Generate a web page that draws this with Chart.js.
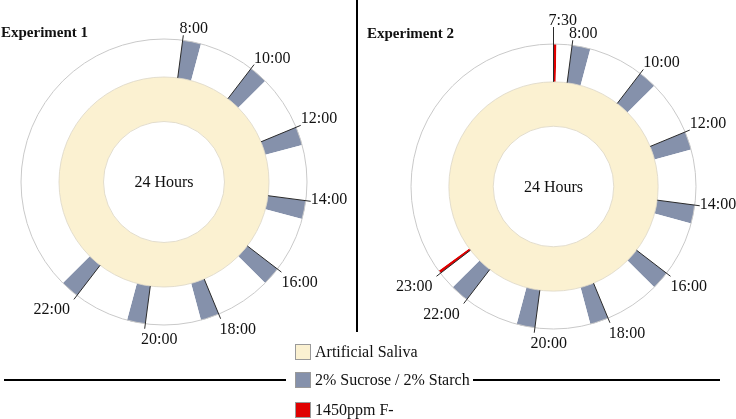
<!DOCTYPE html>
<html>
<head>
<meta charset="utf-8">
<script src="https://cdn.jsdelivr.net/npm/chart.js@4/dist/chart.umd.min.js"></script>
<style>
  html, body { margin: 0; padding: 0; background: #fff; }
  body { width: 736px; height: 419px; position: relative; overflow: hidden; font-family: "Liberation Serif", "Times New Roman", serif; }
  .cv { position: absolute; top: 0; }
  #c1wrap { left: 0; width: 357px; height: 370px; }
  #c2wrap { left: 357px; width: 379px; height: 370px; }
  .rule { position: absolute; background: #000; }
  .legend { position: absolute; left: 295px; top: 344px; font-size: 16px; color: #111; }
  .legend .item { position: absolute; left: 0; height: 18px; white-space: nowrap; }
  .legend .box { position: absolute; left: 0; top: 0; width: 16px; height: 16px; border: 1px solid #9a9a9a; box-sizing: border-box; }
  .legend .txt { position: absolute; left: 20px; top: -1px; line-height: 18px; }
</style>
</head>
<body>
<div class="cv" id="c1wrap"><canvas id="c1"></canvas></div>
<div class="cv" id="c2wrap"><canvas id="c2"></canvas></div>
<div class="rule" style="left:356px;top:0;width:2px;height:332px;"></div>
<div class="rule" style="left:4px;top:379px;width:282px;height:2px;"></div>
<div class="rule" style="left:473px;top:379px;width:247px;height:2px;"></div>
<div class="legend" id="legend"></div>
<script>
// ---- data ----
const HOURS = 24;
const clockTop = 7.5;                 // time shown at 12 o'clock
const centerLabel = '24 Hours';

const exp1Labels = ['8:00','10:00','12:00','14:00','16:00','18:00','20:00','22:00'];
const exp1Start  = [8, 10, 12, 14, 16, 18, 20, 22];
const exp1Dur    = [0.5, 0.5, 0.5, 0.5, 0.5, 0.5, 0.5, 0.5];

const exp2SugarLabels = ['8:00','10:00','12:00','14:00','16:00','18:00','20:00','22:00'];
const exp2SugarStart  = [8, 10, 12, 14, 16, 18, 20, 22];
const exp2SugarDur    = [0.5, 0.5, 0.5, 0.5, 0.5, 0.5, 0.5, 0.5];
const exp2FluorLabels = ['7:30', '23:00'];
const exp2FluorStart  = [7.5, 23];
const exp2FluorDur    = [0.08, 0.08];

const legendLabels = ['Artificial Saliva', '2% Sucrose / 2% Starch', '1450ppm F-'];

// ---- styles ----
const C_SALIVA = '#fbf1d1';
const C_SUGAR  = '#8591ab';
const C_FLUOR  = '#e00000';
const C_GAP    = '#ffffff';
const FONT = '"Liberation Serif", "Times New Roman", serif';

function buildRing(events) {
  events.sort((a, b) => a.start - b.start);
  const data = [], colors = [], labels = [];
  let cursor = clockTop;
  events.forEach(ev => {
    const gap = ev.start - cursor;
    if (gap > 0) { data.push(gap); colors.push(C_GAP); labels.push(''); }
    data.push(ev.dur); colors.push(ev.color); labels.push(ev.label);
    cursor = ev.start + ev.dur;
  });
  const rest = clockTop + HOURS - cursor;
  if (rest > 0) { data.push(rest); colors.push(C_GAP); labels.push(''); }
  return { data, colors, labels };
}

function events(lbls, starts, durs, color) {
  return lbls.map((l, i) => ({ label: l, start: starts[i], dur: durs[i], color }));
}

const annotate = {
  id: 'annotate',
  afterDatasetsDraw(chart, args, opts) {
    const ctx = chart.ctx;
    const meta = chart.getDatasetMeta(0);
    const ring = chart.data.datasets[0];
    const first = meta.data[0];
    const cx = first.x, cy = first.y;
    const R = first.outerRadius;
    const inner = chart.getDatasetMeta(1).data[0];
    ctx.save();
    // saliva ring outlines
    ctx.strokeStyle = '#dcd6c4';
    ctx.lineWidth = 0.8;
    [inner.innerRadius, inner.outerRadius].forEach(r => {
      ctx.beginPath();
      ctx.arc(cx, cy, r, 0, Math.PI * 2);
      ctx.stroke();
    });
    // outer circle outline
    ctx.beginPath();
    ctx.arc(cx, cy, R, 0, Math.PI * 2);
    ctx.strokeStyle = '#c9c9c9';
    ctx.lineWidth = 1;
    ctx.stroke();
    // leader lines + labels
    ctx.font = '16px ' + FONT;
    ctx.fillStyle = '#111';
    meta.data.forEach((arc, i) => {
      const lbl = ring.tickLabels[i];
      if (!lbl) return;
      const a = arc.startAngle;
      const dx = Math.cos(a), dy = Math.sin(a);
      const lift = (opts.lift && opts.lift[lbl]) || 0;
      const rEnd = R + 5 + lift;
      const ex = cx + dx * rEnd, ey = cy + dy * rEnd;
      ctx.beginPath();
      ctx.moveTo(cx + dx * arc.innerRadius, cy + dy * arc.innerRadius);
      ctx.lineTo(ex, ey);
      ctx.strokeStyle = '#2a2a2a';
      ctx.lineWidth = 1;
      ctx.stroke();
      let tx, ty;
      if (dx < -0.3) { ctx.textAlign = 'right'; tx = ex - 4; }
      else { ctx.textAlign = 'left'; tx = ex - 5 * Math.max(0, 1 - 2 * Math.abs(dx)); }
      ctx.textBaseline = 'alphabetic';
      if (dy < -0.25) ty = ey - 2;
      else if (dy <= 0.25) ty = ey + 3;
      else ty = ey + 15;
      ctx.fillText(lbl, tx, ty);
    });
    // center text
    ctx.textAlign = 'center';
    ctx.textBaseline = 'middle';
    ctx.fillText(centerLabel, cx, cy + 1);
    // title
    ctx.font = 'bold 15px ' + FONT;
    ctx.textAlign = 'left';
    ctx.textBaseline = 'alphabetic';
    ctx.fillText(opts.title, opts.titleX, opts.titleY);
    ctx.restore();
  }
};

function makeChart(id, evs, padding, opts) {
  const ring = buildRing(evs);
  return new Chart(document.getElementById(id), {
    type: 'doughnut',
    data: {
      labels: ring.labels,
      datasets: [
        { data: ring.data, backgroundColor: ring.colors, borderWidth: 0, weight: 38, tickLabels: ring.labels },
        { data: [HOURS], backgroundColor: [C_SALIVA], borderWidth: 0, weight: 44.5 }
      ]
    },
    options: {
      responsive: true,
      maintainAspectRatio: false,
      animation: false,
      events: [],
      cutout: '42.3%',
      rotation: 0,
      layout: { padding },
      plugins: { legend: { display: false }, tooltip: { enabled: false }, annotate: opts }
    },
    plugins: [annotate]
  });
}

makeChart('c1', events(exp1Labels, exp1Start, exp1Dur, C_SUGAR),
  { left: 21, top: 39, right: 50, bottom: 45 },
  { title: 'Experiment 1', titleX: 1, titleY: 37 });

makeChart('c2',
  events(exp2SugarLabels, exp2SugarStart, exp2SugarDur, C_SUGAR)
    .concat(events(exp2FluorLabels, exp2FluorStart, exp2FluorDur, C_FLUOR)),
  { left: 54, top: 44, right: 40, bottom: 41 },
  { title: 'Experiment 2', titleX: 10, titleY: 38, lift: { '7:30': 12 } });

// legend
const legendColors = [C_SALIVA, C_SUGAR, C_FLUOR];
const legendTops = [0, 28, 58];
const lg = document.getElementById('legend');
legendLabels.forEach((t, i) => {
  const d = document.createElement('div');
  d.className = 'item';
  d.style.top = legendTops[i] + 'px';
  d.innerHTML = '<div class="box" style="background:' + legendColors[i] + '"></div><div class="txt"></div>';
  d.querySelector('.txt').textContent = t;
  lg.appendChild(d);
});
</script>
</body>
</html>
